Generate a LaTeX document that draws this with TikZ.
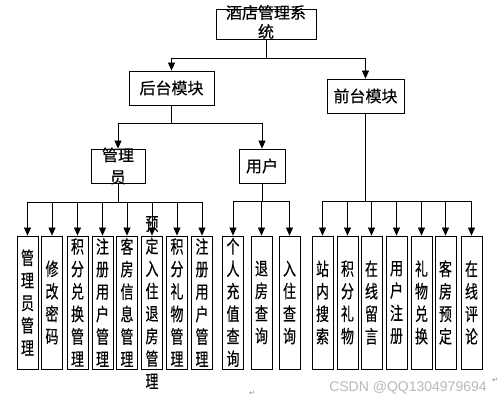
\documentclass[tikz,border=0pt]{standalone}
\usepackage{fontspec}
\setsansfont{Liberation Sans}
\newfontfamily\cjk[FakeBold=0.4]{Noto Sans CJK SC}
\newfontfamily\cjknarrow[FakeStretch=0.72,FakeBold=0.4]{Noto Sans CJK SC}
\newfontfamily\markfont{DejaVu Sans}
\usetikzlibrary{arrows.meta}
\tikzset{
  box/.style={draw, line width=0.8pt, inner sep=0pt},
  toptext/.style={font=\cjk\fontsize{16}{19}\selectfont, align=center, inner sep=0pt},
  leaf/.style={draw, line width=0.8pt, inner sep=0pt, minimum width=21pt, minimum height=133pt},
  leaftext/.style={font=\cjknarrow\fontsize{18}{22.5}\selectfont, align=center, inner sep=0pt},
  ln/.style={line width=0.8pt},
  arr/.style={line width=0.8pt, -{Triangle[width=7pt,length=8pt]}},
  retmark/.style={font=\markfont\fontsize{7}{8}\selectfont, text=gray, inner sep=0pt}
}
\begin{document}
\begin{tikzpicture}[x=1pt,y=-1pt]
\useasboundingbox (0,0) rectangle (499,403);
\fill[white] (0,0) rectangle (499,403);
% upper boxes
\node[box, minimum width=100pt, minimum height=30pt] (root) at (266,24) {};
\node[toptext] at (266,22) {酒店管理系\\统};
\node[box, minimum width=85pt, minimum height=34pt] (back) at (171.5,88) {};
\node[toptext] at (back) {后台模块};
\node[box, minimum width=77pt, minimum height=34pt] (front) at (365.5,96) {};
\node[toptext] at (front) {前台模块};
\node[box, minimum width=54pt, minimum height=34pt] (adm) at (118,166) {};
\node[toptext, font=\cjk\fontsize{16}{22}\selectfont] at (adm) {管理\\员};
\node[box, minimum width=46pt, minimum height=34pt] (usr) at (262,166) {};
\node[toptext] at (usr) {用户};
% bus coordinates
\coordinate (bus0) at (266,58);
\coordinate (bus1) at (171.5,123);
\coordinate (bus2) at (118,202);
\coordinate (bus3) at (262,201);
\coordinate (bus4) at (365.5,201);
% leaves
\foreach \n/\x in {b1/27.5,b2/52,b3/77.5,b4/102.5,b5/127,b6/152,b7/177,b8/202,b9/233,b10/261.5,b11/289.5,f1/322.5,f2/347.5,f3/371.5,f4/396.5,f5/421.5,f6/445.5,f7/471.5}
  \node[leaf] (\n) at (\x,302.5) {};
% connectors
\draw[ln] (root.south) -- (bus0);
\draw[ln] (bus0 -| back.north) -- (bus0 -| front.north);
\draw[arr] (bus0 -| back.north) -- (back.north);
\draw[arr] (bus0 -| front.north) -- (front.north);
\draw[ln] (back.south) -- (bus1);
\draw[ln] (bus1 -| adm.north) -- (bus1 -| usr.north);
\draw[arr] (bus1 -| adm.north) -- (adm.north);
\draw[arr] (bus1 -| usr.north) -- (usr.north);
\draw[ln] (adm.south) -- (bus2);
\draw[ln] (bus2 -| b1.north) -- (bus2 -| b8.north);
\foreach \n in {b1,b2,b3,b4,b5,b6,b7,b8}
  \draw[arr] (bus2 -| \n.north) -- (\n.north);
\draw[ln] (usr.south) -- (bus3);
\draw[ln] (bus3 -| b9.north) -- (bus3 -| b11.north);
\foreach \n in {b9,b10,b11}
  \draw[arr] (bus3 -| \n.north) -- (\n.north);
\draw[ln] (front.south) -- (bus4);
\draw[ln] (bus4 -| f1.north) -- (bus4 -| f7.north);
\foreach \n in {f1,f2,f3,f4,f5,f6,f7}
  \draw[arr] (bus4 -| \n.north) -- (\n.north);
% leaf texts
\node[leaftext] at (b1) {管\\理\\员\\管\\理};
\node[leaftext] at (b2) {修\\改\\密\\码};
\node[leaftext] at (b3) {积\\分\\兑\\换\\管\\理};
\node[leaftext] at (b4) {注\\册\\用\\户\\管\\理};
\node[leaftext] at (b5) {客\\房\\信\\息\\管\\理};
\node[leaftext] at (b6) {预\\定\\入\\住\\退\\房\\管\\理};
\node[leaftext] at (b7) {积\\分\\礼\\物\\管\\理};
\node[leaftext] at (b8) {注\\册\\用\\户\\管\\理};
\node[leaftext] at (b9) {个\\人\\充\\值\\查\\询};
\node[leaftext] at (b10) {退\\房\\查\\询};
\node[leaftext] at (b11) {入\\住\\查\\询};
\node[leaftext] at (f1) {站\\内\\搜\\索};
\node[leaftext] at (f2) {积\\分\\礼\\物};
\node[leaftext] at (f3) {在\\线\\留\\言};
\node[leaftext] at (f4) {用\\户\\注\\册};
\node[leaftext] at (f5) {礼\\物\\兑\\换};
\node[leaftext] at (f6) {客\\房\\预\\定};
\node[leaftext] at (f7) {在\\线\\评\\论};
% marks and watermark
\node[retmark] (r1) at (252,393) {↵};
\node[retmark] (r2) at (495,380) {↵};
\node[font=\sffamily\fontsize{14}{16}\selectfont, text=gray!55, inner sep=0pt] (wm) at (408,388) {CSDN @QQ1304979694};
\end{tikzpicture}
\end{document}
